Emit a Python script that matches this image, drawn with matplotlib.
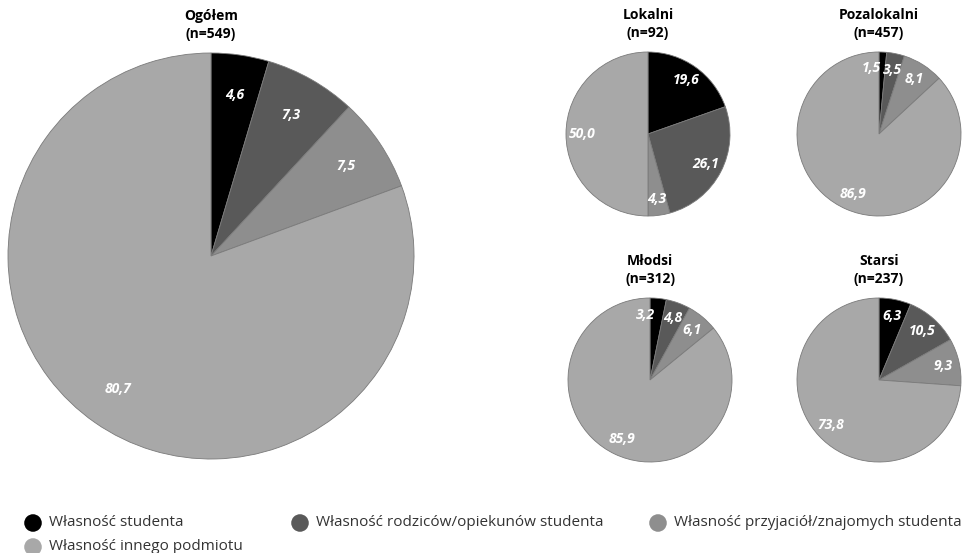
import matplotlib
matplotlib.use("Agg")
import matplotlib.pyplot as plt

plt.rcParams["font.family"] = ["Open Sans", "DejaVu Sans"]

# data
categories = [
    "Własność studenta",
    "Własność rodziców/opiekunów studenta",
    "Własność przyjaciół/znajomych studenta",
    "Własność innego podmiotu",
]
colors = ["#000000", "#595959", "#8e8e8e", "#a8a8a8"]

groups = ["Ogółem", "Lokalni", "Pozalokalni", "Młodsi", "Starsi"]
group_n = [549, 92, 457, 312, 237]
ogolem = [4.6, 7.3, 7.5, 80.7]
lokalni = [19.6, 26.1, 4.3, 50.0]
pozalokalni = [1.5, 3.5, 8.1, 86.9]
mlodsi = [3.2, 4.8, 6.1, 85.9]
starsi = [6.3, 10.5, 9.3, 73.8]
values = [ogolem, lokalni, pozalokalni, mlodsi, starsi]

W, H = 968, 553
fig = plt.figure(figsize=(W / 100, H / 100), dpi=100)

# pie centres and radii in pixels (layout)
layout = [(211, 256, 203), (648, 134, 82), (879, 134, 82), (650, 380, 82), (879, 380, 82)]


def pie(ax, vals, title):
    wedges, texts = ax.pie(
        vals, colors=colors, startangle=90, counterclock=False,
        labels=[f"{v:.1f}".replace(".", ",") for v in vals], labeldistance=0.8,
        wedgeprops=dict(edgecolor="#7a7a7a", linewidth=0.6),
    )
    for t in texts:
        t.set_ha("center")
        t.set_va("center")
        t.set_color("white")
        t.set_fontweight("bold")
        t.set_fontstyle("italic")
        t.set_fontsize(10)
    # thin first slice: move its label left so it does not sit on the next one
    if vals[0] < 4:
        x, y = texts[0].get_position()
        texts[0].set_position((x - 0.02, y))
        texts[0].set_ha("right")
    ax.set_xlim(-1, 1)
    ax.set_ylim(-1, 1)
    ax.set_aspect("equal")
    ax.set_title(title, fontsize=10, fontweight="bold", pad=11, linespacing=1.3)


for (cx, cy, r), vals, g, n in zip(layout, values, groups, group_n):
    ax = fig.add_axes([(cx - r) / W, 1 - (cy + r) / H, 2 * r / W, 2 * r / H])
    pie(ax, vals, f"{g}\n(n={n})")

# legend drawn in pixel coordinates
lax = fig.add_axes([0, 0, 1, 1])
lax.set_xlim(0, W)
lax.set_ylim(H, 0)
lax.axis("off")
leg_pos = [(33, 523), (300, 523), (658, 523), (33, 547)]
for (x, y), c, lab in zip(leg_pos, colors, categories):
    lax.scatter([x], [y], s=160, color=c, edgecolors="none")
    lax.text(x + 16, y, lab, fontsize=11, va="center", ha="left", color="#333333")

fig.savefig("out.png", dpi=100)
